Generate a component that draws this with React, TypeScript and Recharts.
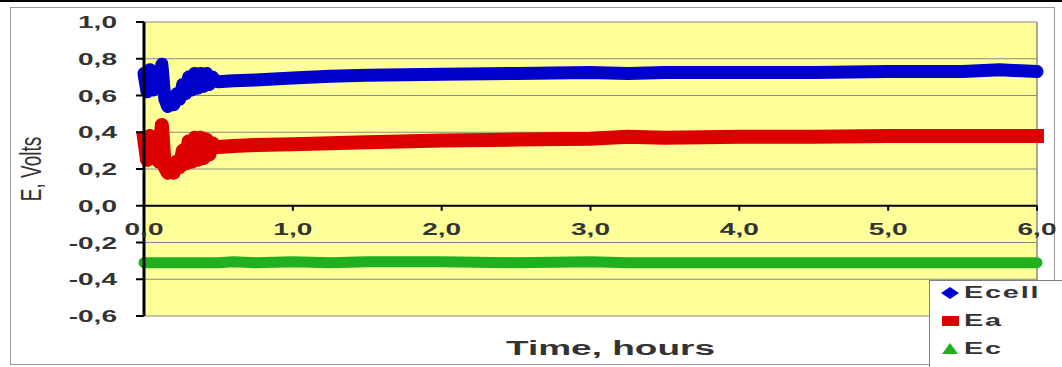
import {
  LineChart,
  Line,
  XAxis,
  YAxis,
  CartesianGrid,
  ReferenceLine,
  ReferenceDot,
  Legend,
  Label,
} from "recharts";

// values (hours / volts)
const timeHours = [
  0, 0.02, 0.04, 0.06, 0.08, 0.1, 0.12, 0.14, 0.16, 0.18, 0.2, 0.22, 0.24, 0.26, 0.28, 0.3, 0.32, 0.34,
  0.36, 0.38, 0.4, 0.42, 0.44, 0.46, 0.48, 0.5, 0.6, 0.75, 1.0, 1.25, 1.5, 2.0, 2.5, 3.0, 3.25, 3.5, 4.0,
  4.5, 5.0, 5.5, 5.75, 6.0,
];
const ecellVolts = [
  0.72, 0.62, 0.74, 0.63, 0.72, 0.64, 0.77, 0.58, 0.54, 0.57, 0.55, 0.61, 0.58, 0.66, 0.61, 0.7, 0.63,
  0.72, 0.64, 0.72, 0.65, 0.72, 0.66, 0.7, 0.68, 0.675, 0.68, 0.685, 0.695, 0.705, 0.71, 0.715, 0.72,
  0.725, 0.72, 0.725, 0.725, 0.725, 0.73, 0.73, 0.74, 0.73,
];
const eaVolts = [
  0.37, 0.25, 0.38, 0.26, 0.36, 0.24, 0.44, 0.21, 0.18, 0.2, 0.18, 0.24, 0.21, 0.3, 0.23, 0.35, 0.24,
  0.37, 0.25, 0.37, 0.26, 0.36, 0.28, 0.34, 0.32, 0.32, 0.325, 0.33, 0.335, 0.34, 0.345, 0.355, 0.36,
  0.365, 0.375, 0.37, 0.375, 0.375, 0.38, 0.38, 0.38, 0.38,
];
const ecVolts = [
  -0.31, -0.31, -0.31, -0.31, -0.31, -0.31, -0.31, -0.31, -0.31, -0.31, -0.31, -0.31, -0.31, -0.31,
  -0.31, -0.31, -0.31, -0.31, -0.31, -0.31, -0.31, -0.31, -0.31, -0.31, -0.31, -0.31, -0.305, -0.31,
  -0.305, -0.31, -0.305, -0.305, -0.31, -0.305, -0.31, -0.31, -0.31, -0.31, -0.31, -0.31, -0.31, -0.31,
];
const seriesNames = ["Ecell", "Ea", "Ec"];
const yTicks = [-0.6, -0.4, -0.2, 0, 0.2, 0.4, 0.6, 0.8, 1.0];
const xTicks = [0, 1, 2, 3, 4, 5, 6];

const data = timeHours.map((t, i) => ({
  t,
  Ecell: ecellVolts[i],
  Ea: eaVolts[i],
  Ec: ecVolts[i],
}));

const FONT = "'Liberation Sans', Arial, sans-serif";
const fmt = (v: number) => v.toFixed(1).replace(".", ",");

function YTick({ x, y, payload }: any) {
  return (
    <text
      transform={`translate(${x},${y + 6}) scale(1.65,1)`}
      textAnchor="end"
      fontSize={17}
      fontWeight="bold"
      fontFamily={FONT}
      fill="#333"
    >
      {fmt(payload.value)}
    </text>
  );
}

// x tick drawn on the zero line
function XTickOnZero(props: any) {
  const { cx, cy, label } = props;
  return (
    <g>
      <line x1={cx} y1={cy} x2={cx} y2={cy + 5} stroke="#000" strokeWidth={2} />
      <text
        transform={`translate(${cx},${cy + 29}) scale(1.65,1)`}
        textAnchor="middle"
        fontSize={17}
        fontWeight="bold"
        fontFamily={FONT}
        fill="#333"
      >
        {label}
      </text>
    </g>
  );
}

function Marker({ type, color }: { type: string; color: string }) {
  if (type === "diamond")
    return <polygon points="9,0 18,6 9,12 0,6" fill={color} />;
  if (type === "square") return <rect x={1} y={1} width={17} height={10} fill={color} />;
  return <polygon points="9,0 17,11 1,11" fill={color} />;
}

function LegendBox({ payload }: any) {
  const items = [...(payload || [])].sort(
    (a: any, b: any) => seriesNames.indexOf(a.value) - seriesNames.indexOf(b.value)
  );
  return (
    <div
      style={{
        position: "relative",
        width: 134,
        height: 88,
        background: "#fff",
        border: "1px solid #808080",
        boxSizing: "border-box",
      }}
    >
      {items.map((entry: any, i: number) => (
        <div key={entry.value} style={{ position: "absolute", left: 11, top: 4 + i * 28, height: 16, display: "flex", alignItems: "center" }}>
          <svg width={19} height={12}>
            <Marker type={entry.type} color={entry.color} />
          </svg>
          <span
            style={{
              marginLeft: 4,
              fontFamily: FONT,
              fontWeight: "bold",
              fontSize: 16,
              color: "#333",
              transform: "scaleX(1.8)",
              transformOrigin: "left center",
              display: "inline-block",
              letterSpacing: 1,
            }}
          >
            {entry.value}
          </span>
        </div>
      ))}
    </div>
  );
}

export default function App() {
  return (
    <div style={{ position: "absolute", left: 0, top: 0, width: 1062, height: 367, background: "#fff", overflow: "hidden" }}>
      <div style={{ position: "absolute", left: 0, top: 0, width: 1062, height: 2, background: "#000" }} />
      <div
        style={{
          position: "absolute",
          left: 10,
          top: 7,
          width: 1045,
          height: 358,
          border: "1px solid #9a9a9a",
          boxSizing: "border-box",
        }}
      />
      <div style={{ position: "absolute", left: 0, top: 0 }}>
        <LineChart width={1062} height={367} data={data} margin={{ top: 22, right: 25, bottom: 0, left: 0 }}>
          <CartesianGrid vertical={false} stroke="#8a8a8a" fill="#FFFF99" fillOpacity={1} />
          <XAxis
            dataKey="t"
            type="number"
            domain={[0, 6]}
            ticks={xTicks}
            height={51}
            tick={false}
            axisLine={false}
            tickLine={false}
          >
            <Label
              content={({ viewBox }: any) => (
                <text
                  transform={`translate(${viewBox.x + viewBox.width / 2 + 20},${viewBox.y + 39}) scale(1.85,1)`}
                  textAnchor="middle"
                  fontSize={20}
                  fontWeight="bold"
                  fontFamily={FONT}
                  fill="#333"
                >
                  Time, hours
                </text>
              )}
            />
          </XAxis>
          <YAxis
            type="number"
            domain={[-0.6, 1.0]}
            ticks={yTicks}
            width={144}
            tick={<YTick />}
            tickSize={8}
            tickMargin={19}
            tickLine={{ stroke: "#000", strokeWidth: 2 }}
            axisLine={{ stroke: "#000", strokeWidth: 3 }}
          >
            <Label
              content={({ viewBox }: any) => (
                <text
                  transform={`translate(${viewBox.x + 41},${viewBox.y + viewBox.height / 2}) rotate(-90) scale(1,1.6)`}
                  textAnchor="middle"
                  fontSize={19}
                  fontFamily={FONT}
                  fill="#333"
                >
                  E, Volts
                </text>
              )}
            />
          </YAxis>
          <ReferenceLine x={6} stroke="#8a8a8a" strokeWidth={1.5} />
          <ReferenceLine y={0} stroke="#000" strokeWidth={2} />
          {xTicks.map((t) => (
            <ReferenceDot
              key={t}
              x={t}
              y={0}
              r={0}
              shape={(p: any) => <XTickOnZero {...p} label={fmt(t)} />}
            />
          ))}
          <Line
            dataKey="Ecell"
            name="Ecell"
            type="linear"
            stroke="#0000CC"
            strokeWidth={13}
            strokeLinejoin="round"
            strokeLinecap="round"
            dot={false}
            activeDot={false}
            legendType="diamond"
            isAnimationActive={false}
          />
          <Line
            dataKey="Ea"
            name="Ea"
            type="linear"
            stroke="#DD0000"
            strokeWidth={14}
            strokeLinejoin="round"
            strokeLinecap="square"
            dot={false}
            activeDot={false}
            legendType="square"
            isAnimationActive={false}
          />
          <Line
            dataKey="Ec"
            name="Ec"
            type="linear"
            stroke="#1FAF1F"
            strokeWidth={11}
            strokeLinejoin="round"
            strokeLinecap="round"
            dot={false}
            activeDot={false}
            legendType="triangle"
            isAnimationActive={false}
          />
          <Legend
            layout="horizontal"
            verticalAlign="middle"
            align="center"
            content={<LegendBox />}
            wrapperStyle={{ left: 929, top: 280, width: 134, height: 88 }}
          />
        </LineChart>
      </div>
    </div>
  );
}
